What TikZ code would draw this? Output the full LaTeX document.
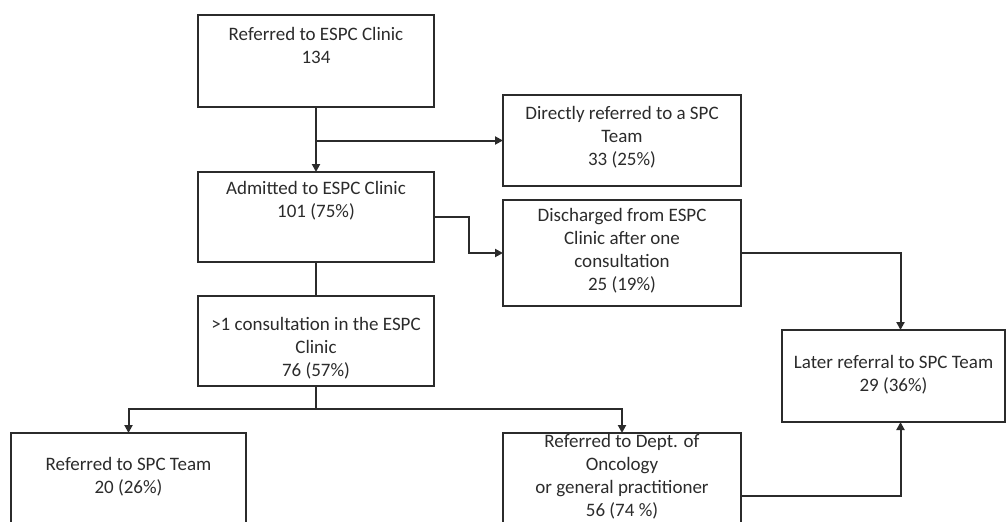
\documentclass[tikz,border=0pt]{standalone}
\usepackage{fontspec}
\setmainfont{Carlito}
\usetikzlibrary{arrows.meta,calc}
\definecolor{ink}{HTML}{2B2B2B}
\begin{document}
\begin{tikzpicture}[x=1pt,y=-1pt,
  box/.style={draw=ink,line width=2pt,rectangle,inner sep=0pt,outer sep=0pt},
  txt/.style={text=ink,align=center,inner sep=0pt,font=\fontsize{19}{23}\selectfont},
  conn/.style={draw=ink,line width=2pt},
  arr/.style={conn,-{Triangle[length=8pt,width=8pt]}}]
\clip (0,0) rectangle (1007,522);
% boxes
\node[box,minimum width=236pt,minimum height=92pt] (b1) at (316,61) {};
\node[box,minimum width=236pt,minimum height=90pt] (b2) at (316,217) {};
\node[box,minimum width=236pt,minimum height=90pt] (b3) at (316,341) {};
\node[box,minimum width=238pt,minimum height=91pt] (d) at (622,140.5) {};
\node[box,minimum width=238pt,minimum height=106pt] (dis) at (622,253) {};
\node[box,minimum width=223pt,minimum height=92pt] (later) at (893.5,376) {};
\node[box,minimum width=235pt,minimum height=107pt] (b4) at (128.5,486.5) {};
\node[box,minimum width=238pt,minimum height=107pt] (b5) at (622,486.5) {};
% texts
\node[txt] (t1) at (316,45) {Referred to ESPC Clinic\\134};
\node[txt] (t2) at (316,200.5) {Admitted to ESPC Clinic\\101 (75\%)};
\node[txt] (t3) at (316,348) {>1 consultation in the ESPC\\Clinic\\76 (57\%)};
\node[txt] (td) at (622,137.5) {Directly referred to a SPC\\Team\\33 (25\%)};
\node[txt] (tdis) at (622,251) {Discharged from ESPC\\Clinic after one\\consultation\\25 (19\%)};
\node[txt] (tl) at (893.5,374.5) {Later referral to SPC Team\\29 (36\%)};
\node[txt] (t4) at (128.5,477) {Referred to SPC Team\\20 (26\%)};
\node[txt] (t5) at (622,477) {Referred to Dept. of\\Oncology\\or general practitioner\\56 (74 \%)};
% connectors
\coordinate (j1) at (b1.south |- d.west);
\draw[arr] (b1.south) -- (b2.north);
\draw[arr] (j1) -- (d.west);
\draw[arr] (b2.east) -- ++(35,0) |- (dis.west);
\draw[conn] (b2.south) -- (b3.north);
\coordinate (j2) at ($(b3.south)+(0,23)$);
\draw[conn] (b3.south) -- (j2);
\draw[arr] (j2) -| (b4.north);
\draw[arr] (j2) -| (b5.north);
\coordinate (lt) at ([xshift=7pt]later.north);
\coordinate (lb) at ([xshift=7pt]later.south);
\coordinate (b5e) at ([yshift=-9.5pt]b5.east);
\draw[arr] (dis.east) -| (lt);
\draw[arr] (b5e) -| (lb);
\end{tikzpicture}
\end{document}
